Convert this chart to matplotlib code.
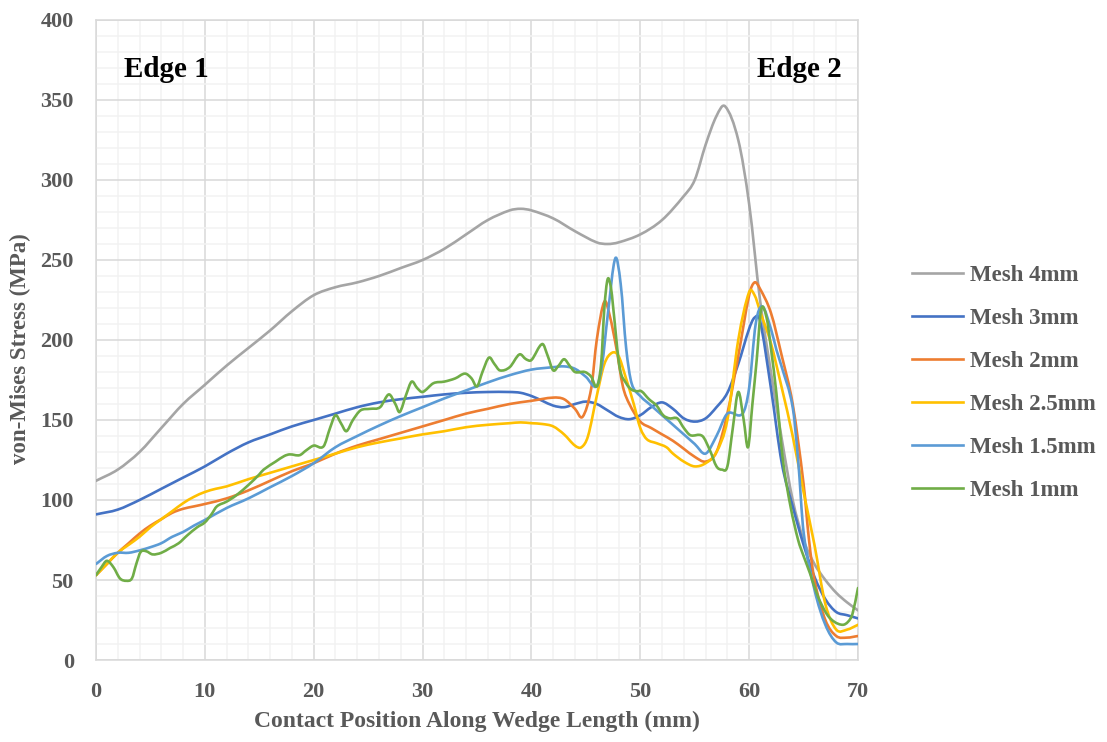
import matplotlib.pyplot as plt
from matplotlib.path import Path
from matplotlib.patches import PathPatch
from matplotlib.lines import Line2D

# von-Mises stress along the wedge contact for each mesh size
x_4mm = [0, 2, 4, 6, 8, 10, 12, 14, 16, 18, 20, 22, 24, 26, 28, 30, 32, 34, 36, 38, 39, 40, 42, 44, 46, 47, 48, 50,
         52, 54, 55, 56, 57, 57.8, 59, 60, 61, 62, 63, 64, 65, 66, 67, 68, 69, 70]
s_4mm = [112, 119, 130, 145, 160, 172, 184, 195, 206, 218, 228, 233, 236, 240, 245, 250, 257, 266, 275, 281, 282, 281,
         276, 268, 261, 260, 261, 266, 275, 290, 300, 322, 340, 346, 325, 285, 225, 180, 138, 100, 75, 60, 50, 42, 36, 31]

x_3mm = [0, 2, 4, 6, 8, 10, 12, 14, 16, 18, 20, 22, 24, 26, 28, 30, 32, 34, 36, 38, 39, 40, 41, 42, 43, 44, 45, 46,
         47, 48, 49, 50, 51, 52, 53, 54, 55, 56, 57, 58, 59, 60, 60.5, 61, 62, 63, 64, 65, 66, 67, 68, 69, 70]
s_3mm = [91, 94, 100, 107, 114, 121, 129, 136, 141, 146, 150, 154, 158, 161, 163, 164.5, 166, 167, 167.5, 167.5, 167,
         165, 162, 159, 158, 160, 161.5, 160, 156, 152, 150.5, 153, 158, 161, 157, 151, 149, 151, 158, 167, 185, 207,
         214, 212, 170, 123, 96, 72, 52, 38, 30, 28, 26]

x_2mm = [0, 1, 2, 3, 4, 5, 6, 7, 8, 9, 10, 12, 14, 16, 18, 20, 22, 24, 26, 28, 30, 32, 34, 36, 38, 40, 42, 43, 44,
         44.7, 45.5, 46, 46.7, 47.2, 47.8, 48.4, 49, 50, 51, 52, 53, 54, 55, 56, 57, 58, 59, 60, 60.5, 61, 62, 63, 64,
         65, 65.5, 66, 67, 68, 69, 70]
s_2mm = [53, 60, 67, 73, 79, 84, 88, 92, 94.5, 96, 97.5, 101, 106, 112, 118, 123, 129, 134, 138, 142, 146, 150, 154,
         157, 160, 162, 164, 163, 157, 152, 170, 200, 224, 215, 195, 171, 160, 149, 145, 141, 137, 132, 127, 124, 130,
         154, 190, 228, 236, 232, 217, 190, 160, 110, 75, 50, 25, 15, 14, 15]

x_25mm = [0, 1, 2, 3, 4, 5, 6, 7, 8, 9, 10, 11, 12, 14, 16, 18, 20, 22, 24, 26, 28, 30, 32, 34, 36, 38, 39, 40, 41,
          42, 43, 44, 44.6, 45.2, 46, 46.7, 47.4, 48, 48.6, 49.4, 50, 50.6, 51.5, 52.4, 53, 54, 55, 56, 57, 58, 59,
          60, 60.5, 61, 62, 63, 64, 65, 66, 67, 68, 69, 70]
s_25mm = [53, 60, 67, 72, 77, 83, 88, 93, 98, 102, 105, 107, 108.5, 113, 117, 121, 125, 129, 133, 136, 138.5, 141,
          143, 145.5, 147, 148, 148.5, 148, 147.5, 146, 141, 134, 133, 140, 165, 185, 192, 190, 178, 160, 145, 138,
          135.5, 133, 129, 124, 121, 123, 130, 150, 200, 230, 228, 218, 198, 170, 140, 105, 72, 35, 19, 19, 22]

x_15mm = [0, 1, 2, 3, 4, 5, 6, 7, 8, 9, 10, 12, 14, 16, 18, 20, 22, 24, 26, 28, 30, 32, 34, 36, 38, 40, 42, 43, 44,
          45, 46, 46.5, 47, 47.7, 48.2, 48.7, 49.2, 50, 51, 52, 53, 54, 55, 56, 57, 58, 59.4, 60, 60.6, 61.2, 62,
          62.5, 63, 64, 64.5, 65, 66, 67, 68, 69, 70]
s_15mm = [60, 65, 67, 67, 68.5, 70.5, 73, 77, 80, 84, 87.5, 95, 101, 108, 115, 123, 133, 140, 146.5, 152.5, 158,
          163.5, 168.5, 173.5, 178, 181.5, 183, 183.5, 182, 177, 171, 185, 215, 251, 235, 195, 173, 165, 159, 153,
          147, 141, 135, 129, 140, 154, 154, 170, 210, 221, 207, 194, 183, 158, 125, 80, 44, 22, 11, 10, 10]

x_1mm = [0, 0.5, 1, 1.6, 2.2, 2.8, 3.3, 3.7, 4.1, 4.6, 5.2, 6, 6.8, 7.6, 8.4, 9.3, 10, 10.6, 11.1, 12, 12.9, 14.1,
         15, 15.4, 16.5, 17.3, 17.8, 18.7, 19.3, 20, 20.9, 21.5, 22, 22.5, 23, 23.6, 24.3, 25.2, 26.1, 26.9, 27.5,
         27.9, 28.5, 29, 29.5, 30, 31, 32, 33, 33.9, 34.5, 35, 35.5, 36.1, 36.6, 37.1, 38, 38.9, 39.5, 40, 41, 41.5,
         42, 42.5, 43, 43.5, 44, 44.9, 45.5, 46, 46.4, 46.7, 47, 47.3, 47.5, 48.1, 48.7, 49.2, 49.7, 50.1, 50.8,
         51.5, 52.1, 52.7, 53.4, 54, 54.6, 55.7, 56.4, 57, 57.5, 58, 58.5, 59, 59.5, 59.9, 60.3, 60.7, 61.1, 61.6,
         62, 62.5, 63.1, 63.8, 64.5, 65, 65.6, 66.3, 67.1, 67.8, 68.6, 69.1, 69.5, 70]
s_1mm = [53, 58, 62, 58, 51, 49.5, 51, 60, 67.5, 68, 66, 67, 70, 73, 78, 83, 86, 91, 96, 99, 103, 110, 116, 119,
         124, 127.5, 128.5, 128, 131, 134, 133.5, 145, 153, 148, 143, 150, 156, 157, 158, 166, 160, 155, 166, 174,
         170, 167.5, 173, 174, 176, 179, 176, 171, 180, 189, 185, 181, 183, 191, 188, 187.5, 197.5, 190, 181, 184,
         188, 184, 180, 180, 177, 171, 185, 220, 238, 233, 221, 183, 173, 169, 168, 168, 163, 159, 153, 151, 151,
         145, 140.5, 140, 131, 121, 119, 121, 145, 167.5, 150, 133, 160, 188, 219, 214, 195, 167, 125, 96, 75, 65,
         54, 40, 29, 24, 22, 24, 29, 45]

series = [
    ('Mesh 4mm', x_4mm, s_4mm, '#A5A5A5'),
    ('Mesh 3mm', x_3mm, s_3mm, '#4472C4'),
    ('Mesh 2mm', x_2mm, s_2mm, '#ED7D31'),
    ('Mesh 2.5mm', x_25mm, s_25mm, '#FFC000'),
    ('Mesh 1.5mm', x_15mm, s_15mm, '#5B9BD5'),
    ('Mesh 1mm', x_1mm, s_1mm, '#70AD47'),
]


def smooth_path(xs, ys):
    # smoothed line (cubic bezier through every point, catmull-rom style slopes)
    n = len(xs)
    slopes = []
    for i in range(n):
        a = max(i - 1, 0)
        b = min(i + 1, n - 1)
        slopes.append((ys[b] - ys[a]) / (xs[b] - xs[a]))
    verts = [(xs[0], ys[0])]
    codes = [Path.MOVETO]
    for i in range(n - 1):
        h = (xs[i + 1] - xs[i]) / 3
        verts += [(xs[i] + h, ys[i] + slopes[i] * h),
                  (xs[i + 1] - h, ys[i + 1] - slopes[i + 1] * h),
                  (xs[i + 1], ys[i + 1])]
        codes += [Path.CURVE4] * 3
    return Path(verts, codes)


plt.rcParams['font.family'] = 'Liberation Serif'
plt.rcParams['font.weight'] = 'bold'

fig = plt.figure(figsize=(11.07, 7.42), dpi=100, facecolor='white')
ax = fig.add_axes([96/1107, 1 - 660/742, (858 - 96)/1107, (660 - 20)/742])

handles = []
for name, xs, ys, col in series:
    ax.add_patch(PathPatch(smooth_path(xs, ys), fill=False, edgecolor=col, linewidth=1.9,
                           capstyle='round', joinstyle='round', zorder=3))
    handles.append(Line2D([], [], color=col, linewidth=1.9, label=name))

ax.set_xlim(0, 70)
ax.set_ylim(0, 400)
ax.set_xticks(range(0, 71, 10))
ax.set_yticks(range(0, 401, 50))
ax.set_xticks(range(0, 71, 2), minor=True)
ax.set_yticks(range(0, 401, 10), minor=True)
ax.grid(which='minor', color='#F2F2F2', linewidth=1.1, zorder=0)
ax.grid(which='major', color='#D9D9D9', linewidth=1.1, zorder=1)
ax.set_axisbelow(True)
for sp in ax.spines.values():
    sp.set_color('#D9D9D9')
    sp.set_linewidth(1.1)
ax.tick_params(which='both', length=0, labelsize=16, labelcolor='#595959', pad=16)
for lab in ax.get_xticklabels() + ax.get_yticklabels():
    lab.set_fontweight('bold')

ax.set_xlabel('Contact Position Along Wedge Length (mm)', fontsize=17, color='#595959',
              fontweight='bold', labelpad=6)
ax.set_ylabel('von-Mises Stress (MPa)', fontsize=16.5, color='#595959', fontweight='bold')
ax.yaxis.set_label_coords(-0.085, 0.486)

ax.text(2.6, 369, 'Edge 1', fontsize=21, fontweight='bold', color='black', va='center', ha='left')
ax.text(68.5, 369, 'Edge 2', fontsize=21, fontweight='bold', color='black', va='center', ha='right')

leg = fig.legend(handles=handles, loc='center left', bbox_to_anchor=(891/1107, 1 - 383/742), frameon=False,
                 fontsize=16.5, handlelength=2.23, handletextpad=0.3, labelspacing=0.95, borderpad=0.4)
for t in leg.get_texts():
    t.set_color('#595959')
    t.set_fontweight('bold')

fig.savefig('out.png', dpi=100, facecolor='white')
